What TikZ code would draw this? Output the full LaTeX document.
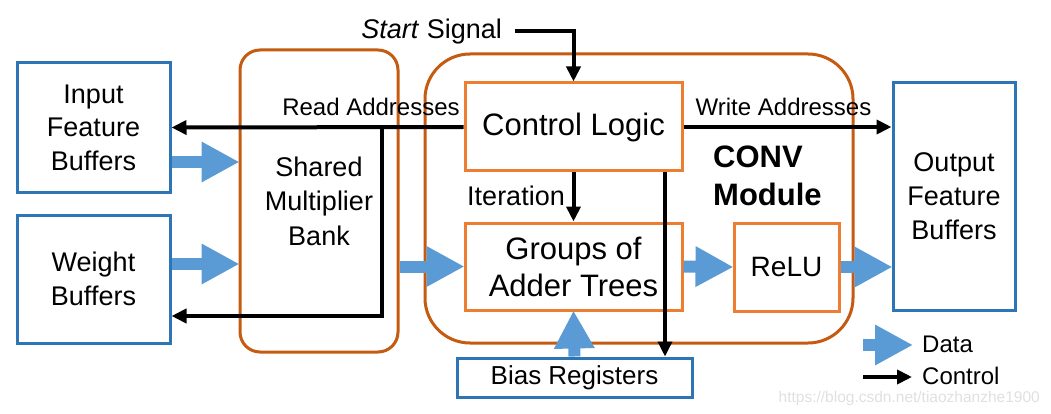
\documentclass[tikz,border=0pt]{standalone}
\usepackage{fontspec}
\setmainfont{Liberation Sans}
\usetikzlibrary{arrows.meta,calc}
\definecolor{bufblue}{HTML}{2E75B6}
\definecolor{datablue}{HTML}{5B9BD5}
\definecolor{modorange}{HTML}{C55A11}
\definecolor{boxorange}{HTML}{ED7D31}
\tikzset{
  bufbox/.style={draw=bufblue,line width=3pt,align=center,inner sep=0pt},
  modbox/.style={draw=modorange,line width=3pt,rounded corners=#1,inner sep=0pt},
  unitbox/.style={draw=boxorange,line width=3pt,align=center,inner sep=0pt},
  ctrl/.style={line width=4pt,-{Triangle[length=15pt,width=14pt]}},
  data/.style={draw=datablue,line width=12pt,-{Triangle[length=38pt,width=38pt]},shorten >=-1pt},
  lbl/.style={inner sep=0pt,font=\fontsize{24}{28}\selectfont},
}
\begin{document}
\begin{tikzpicture}[x=1pt,y=-1pt]
\useasboundingbox (0,0) rectangle (1051,414);
% containers
\node[modbox=20pt,minimum width=158pt,minimum height=302pt,align=center,font=\fontsize{27}{34.5}\selectfont] (sh) at (319,201) {Shared\\Multiplier\\Bank};
\node[modbox=45pt,minimum width=428pt,minimum height=289pt] (conv) at (639,198.5) {};
% buffers
\node[bufbox,minimum width=153pt,minimum height=129pt,font=\fontsize{27}{33.5}\selectfont] (inb) at (93.5,127.5) {Input\\Feature\\Buffers};
\node[bufbox,minimum width=153pt,minimum height=128pt,font=\fontsize{27}{33.5}\selectfont] (wb) at (93.5,279) {Weight\\Buffers};
\node[bufbox,minimum width=122pt,minimum height=227pt,font=\fontsize{27}{34}\selectfont] (ofb) at (954,196.5) {Output\\Feature\\Buffers};
\node[bufbox,minimum width=235pt,minimum height=39pt,font=\fontsize{26}{30}\selectfont] (bias) at (574.5,377.5) {Bias Registers};
% units
\node[unitbox,minimum width=217pt,minimum height=88pt,font=\fontsize{31}{36}\selectfont] (cl) at (573.5,127) {Control Logic};
\node[unitbox,minimum width=217pt,minimum height=87pt,font=\fontsize{31}{37}\selectfont] (gat) at (573.5,266.5) {Groups of\\Adder Trees};
\node[unitbox,minimum width=105pt,minimum height=88pt,font=\fontsize{28}{32}\selectfont] (relu) at (786.5,267) {ReLU};
% labels
\node[inner sep=0pt,align=left,font=\bfseries\fontsize{31}{38}\selectfont,anchor=north west] (convlbl) at (713,146) {CONV\\Module};
\node[lbl] (rdlbl) at (371,107) {Read Addresses};
\node[lbl] (wrlbl) at (783.5,107) {Write Addresses};
\node[inner sep=0pt,font=\fontsize{27}{30}\selectfont] (itlbl) at (516,196) {Iteration};
\node[inner sep=0pt,font=\fontsize{27}{30}\selectfont,anchor=east] (start) at (502,32) {\textit{Start} Signal};
% control connectors
\draw[ctrl] ([xshift=13pt,yshift=1pt]start.east) -| (cl.north);
\draw[ctrl] (cl.west) -- (inb.east);
\coordinate (rb) at (382,127);
\draw[ctrl] (rb) |- ([yshift=-37pt]wb.east);
\draw[ctrl] (cl.east) -- (cl.east -| ofb.west);
\draw[ctrl] (cl.south) -- (gat.north);
\draw[ctrl,line width=3.5pt] ([xshift=91.5pt]cl.south) coordinate (c2) -- (c2 |- bias.north);
% data connectors
\draw[data] ([yshift=-34.5pt]inb.east) coordinate (d1) -- (d1 -| sh.west);
\draw[data] ([yshift=15pt]wb.east) coordinate (d2) -- (d2 -| sh.west);
\draw[data] (gat.west -| sh.east) -- (gat.west);
\draw[data] (gat.east) -- (relu.west);
\draw[data] (relu.east) -- (relu.east -| ofb.west);
\draw[data] (bias.north) -- (gat.south);
% legend
\coordinate (lda) at (863,345);
\coordinate (ldb) at (912,345);
\coordinate (lca) at (863,377);
\coordinate (lcb) at (912,377);
\draw[data] (lda) -- (ldb);
\draw[ctrl] (lca) -- (lcb);
\node[lbl,anchor=west] (ldata) at (922,344) {Data};
\node[lbl,anchor=west] (lctrl) at (922,376) {Control};
% watermark
\node[inner sep=0pt,anchor=east,text=black!12,font=\fontsize{15.5}{17}\selectfont] (wm) at (1040,398) {https://blog.csdn.net/tiaozhanzhe1900};
\end{tikzpicture}
\end{document}
